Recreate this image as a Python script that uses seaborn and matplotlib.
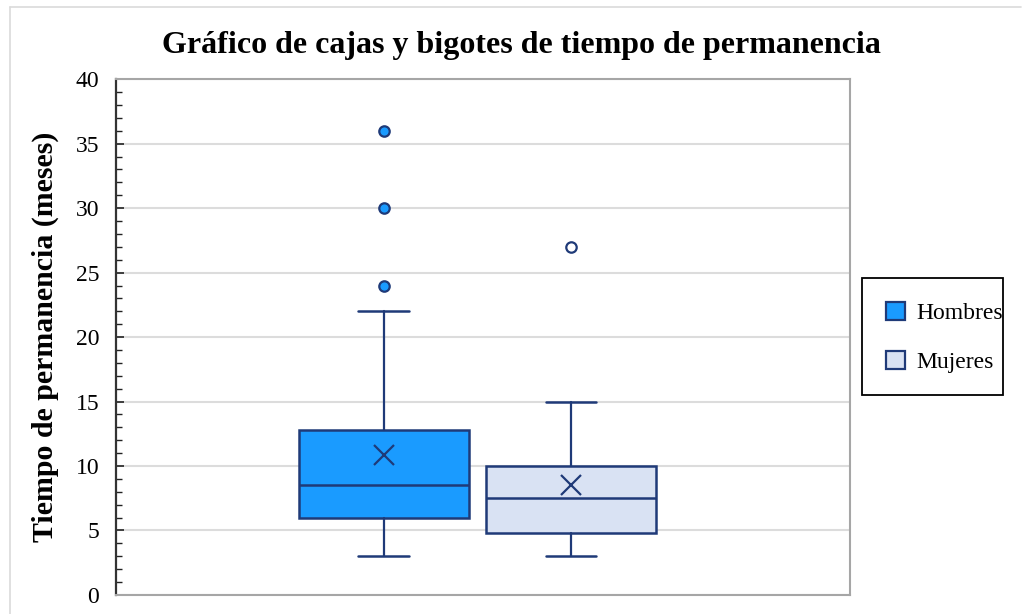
import numpy as np
import matplotlib
matplotlib.use("Agg")
import matplotlib.pyplot as plt
import seaborn as sns
from matplotlib.patches import Patch, Rectangle
from matplotlib.lines import Line2D
from matplotlib.ticker import MultipleLocator

# datos (resumen de cinco numeros + media + atipicos)
grupos = ["Hombres", "Mujeres"]
q1 = [6.0, 4.8]
mediana = [8.5, 7.5]
q3 = [12.8, 10.0]
bigote_inf = [3.0, 3.0]
bigote_sup = [22.0, 15.0]
media = [10.85, 8.5]
atipicos = [[24, 30, 36], [27]]

colores = ["#1a9bff", "#d9e2f3"]
color_atipico = ["#1a9bff", "#ffffff"]
borde = "#1f3a78"

sns.set_style("white")
plt.rcParams["font.family"] = ["Liberation Serif", "DejaVu Serif"]
plt.rcParams["text.color"] = "black"
plt.rcParams["ytick.labelcolor"] = "black"
plt.rcParams["axes.labelcolor"] = "black"

fig = plt.figure(figsize=(10.22, 6.14), dpi=100)
ax = fig.add_axes([0.1135, 0.031, 0.718, 0.840])

# borde claro del marco exterior
W, H = 1022, 614
fig.add_artist(Line2D([10 / W, 1021 / W], [1 - 7 / H, 1 - 7 / H],
                      transform=fig.transFigure, color="#dadada", lw=1.2))
fig.add_artist(Line2D([10 / W, 10 / W], [0, 1 - 7 / H],
                      transform=fig.transFigure, color="#dadada", lw=1.2))

stats = []
for i, g in enumerate(grupos):
    stats.append({"label": g, "q1": q1[i], "med": mediana[i], "q3": q3[i],
                  "whislo": bigote_inf[i], "whishi": bigote_sup[i],
                  "mean": media[i], "fliers": atipicos[i]})

posiciones = [1, 2]
for i, s in enumerate(stats):
    ax.bxp([s], positions=[posiciones[i]], widths=0.91, patch_artist=True,
           showmeans=True, showcaps=True,
           boxprops=dict(facecolor=colores[i], edgecolor=borde, linewidth=1.8),
           medianprops=dict(color=borde, linewidth=1.8),
           whiskerprops=dict(color=borde, linewidth=1.6),
           capprops=dict(color=borde, linewidth=1.8),
           meanprops=dict(marker="x", markeredgecolor=borde, markersize=14,
                          markeredgewidth=1.6),
           flierprops=dict(marker="o", markerfacecolor=color_atipico[i],
                           markeredgecolor=borde, markersize=7.5,
                           markeredgewidth=1.6),
           capwidths=0.27, zorder=3)

ax.set_xlim(-0.43, 3.49)
ax.set_ylim(0, 40)
ax.yaxis.set_major_locator(MultipleLocator(5))
ax.yaxis.set_minor_locator(MultipleLocator(1))
ax.set_xticks([])
ax.grid(axis="y", which="major", color="#dcdcdc", linewidth=1.5, zorder=0)
ax.set_axisbelow(True)
ax.tick_params(axis="y", which="major", direction="in", length=6, width=1.2,
               labelsize=17, color="#222222", left=True, pad=12)
ax.tick_params(axis="y", which="minor", direction="in", length=4, width=1.0,
               color="#222222", left=True)
for lado in ["top", "right", "bottom"]:
    ax.spines[lado].set_color("#a6a6a6")
    ax.spines[lado].set_linewidth(1.5)
ax.spines["left"].set_color("#333333")
ax.spines["left"].set_linewidth(1.6)

ax.set_ylabel("Tiempo de permanencia (meses)", fontsize=21.5,
              fontweight="bold", labelpad=12)
fig.text(0.51, 0.926, "Gráfico de cajas y bigotes de tiempo de permanencia",
         ha="center", va="center", fontsize=23, fontweight="bold")

# leyenda con marco dibujado aparte
handles = [Patch(facecolor=colores[i], edgecolor=borde, linewidth=1.6,
                 label=grupos[i]) for i in range(2)]
leg = fig.legend(handles=handles, loc="center left",
                 bbox_to_anchor=(886 / W, 1 - 337.5 / H), fontsize=17,
                 frameon=False, handlelength=0.8, handleheight=0.8,
                 labelspacing=1.15, borderpad=0, handletextpad=0.5,
                 borderaxespad=0)
fig.add_artist(Rectangle((862 / W, 1 - 395 / H), 141 / W, 117 / H,
                         transform=fig.transFigure, fill=False,
                         edgecolor="black", linewidth=1.3))

fig.savefig("out.png", dpi=100)
